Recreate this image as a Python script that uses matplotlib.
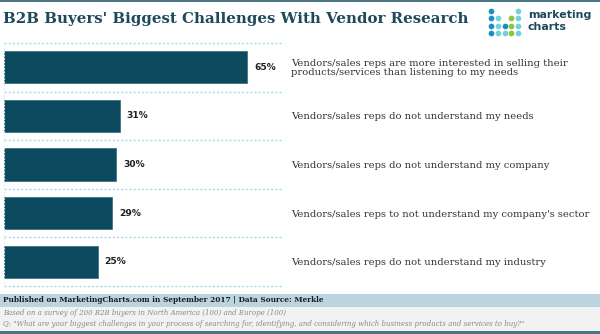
import matplotlib
matplotlib.use("Agg")
import matplotlib.pyplot as plt
from matplotlib.patches import Rectangle

categories = [
    "Vendors/sales reps are more interested in selling their\nproducts/services than listening to my needs",
    "Vendors/sales reps do not understand my needs",
    "Vendors/sales reps do not understand my company",
    "Vendors/sales reps to not understand my company's sector",
    "Vendors/sales reps do not understand my industry",
]
values = [65, 31, 30, 29, 25]

title = "B2B Buyers' Biggest Challenges With Vendor Research"
source = "Published on MarketingCharts.com in September 2017 | Data Source: Merkle"
note1 = "Based on a survey of 200 B2B buyers in North America (100) and Europe (100)"
note2 = ('Q: "What are your biggest challenges in your process of searching for, identifying, '
         'and considering which business products and services to buy?"')

W, H = 600, 334
fig = plt.figure(figsize=(W / 100, H / 100), dpi=100)
fig.patch.set_facecolor("white")

def fx(x):
    return x / W

def fy(y):
    return 1 - y / H

dark = "#1d4a5b"
bar_color = "#0c4b5f"
grid_color = "#a6dbe7"

# top border
fig.add_artist(Rectangle((0, fy(2)), 1, 2 / H, transform=fig.transFigure,
                         color="#4b7585", lw=0))

fig.text(fx(3), fy(19), title, fontsize=10.8, fontweight="bold",
         family="DejaVu Serif", color=dark, va="center", ha="left")

# logo
logo = fig.add_axes([fx(486), fy(36), fx(36), 34 / H])
logo.set_xlim(0, 36)
logo.set_ylim(34, 0)
logo.axis("off")
blue, teal, green = "#1b8fc4", "#72d3dc", "#8cc63f"
pattern = [
    [blue, None, None, None, teal],
    [blue, teal, None, green, teal],
    [blue, teal, blue, green, teal],
    [blue, teal, teal, green, teal],
]
for r, row in enumerate(pattern):
    for c, col in enumerate(row):
        if col:
            logo.scatter(4.7 + c * 6.9, 8.7 + r * 7.4, s=17, color=col, lw=0)
fig.text(fx(528), fy(15), "marketing", fontsize=7.9, fontweight="bold",
         family="DejaVu Sans", color=dark, va="center")
fig.text(fx(528), fy(27), "charts", fontsize=7.9, fontweight="bold",
         family="DejaVu Sans", color=dark, va="center")

# main axes
ax = fig.add_axes([fx(4), fy(286), fx(279), 243 / H])
n = len(values)
pos = list(range(n))
ax.barh(pos, values, height=0.66, color=bar_color, edgecolor="#2f6b7d", lw=0.5)
ax.set_xlim(0, 279 / 3.74)
ax.set_ylim(n - 0.5, -0.5)
for s in ax.spines.values():
    s.set_visible(False)
ax.set_xticks([])
for b in [p - 0.5 for p in pos] + [n - 0.5]:
    ax.axhline(b, color=grid_color, lw=1, ls=(0, (1.5, 1.5)), clip_on=False)
ax.axvline(0, color="#d8eef3", lw=0.8, ls=(0, (1.5, 1.5)), clip_on=False)

for p, v in zip(pos, values):
    ax.annotate(f"{v}%", (v, p), xytext=(5, 0), textcoords="offset points",
                va="center", ha="left", fontsize=6.6, fontweight="bold",
                family="DejaVu Sans", color="#222222")

ax.yaxis.tick_right()
ax.set_yticks(pos)
ax.set_yticklabels(categories, family="DejaVu Serif", fontsize=7.2, color="#333333",
                   linespacing=1.0)
ax.tick_params(axis="y", length=0, pad=6)

# footer
fig.add_artist(Rectangle((0, fy(307)), 1, 13 / H, transform=fig.transFigure,
                         color="#bcd4df", lw=0))
fig.add_artist(Rectangle((0, fy(331)), 1, 24 / H, transform=fig.transFigure,
                         color="#f2f2f2", lw=0))
fig.add_artist(Rectangle((0, 0), 1, 3 / H, transform=fig.transFigure,
                         color="#4b7585", lw=0))
fig.text(fx(3), fy(300.5), source, fontsize=5.3, fontweight="bold",
         family="DejaVu Serif", color="#1a1a1a", va="center")
fig.text(fx(3), fy(313), note1, fontsize=5.05, style="italic",
         family="DejaVu Serif", color="#8a8a8a", va="center")
fig.text(fx(3), fy(323.5), note2, fontsize=5.05, style="italic",
         family="DejaVu Serif", color="#8a8a8a", va="center")

fig.savefig("out.png", dpi=100, facecolor="white")
